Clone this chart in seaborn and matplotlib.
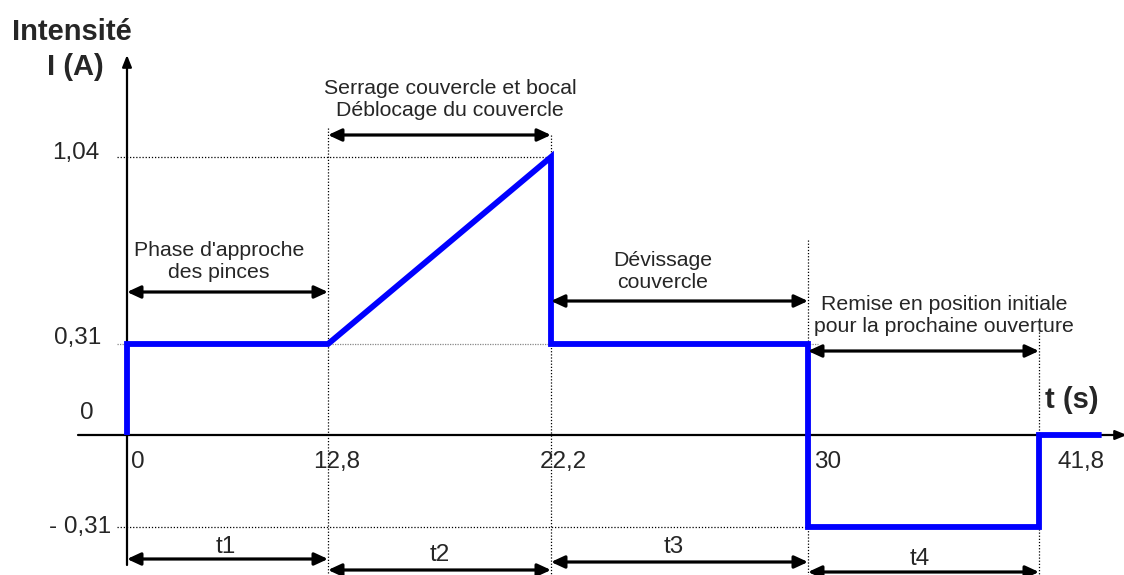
import numpy as np
import matplotlib
matplotlib.use('Agg')
import matplotlib.pyplot as plt
import seaborn as sns

# Data
phase_times = [0, 12.8, 22.2, 30, 41.8]          # s
time_labels = ['0', '12,8', '22,2', '30', '41,8']
current_levels = [1.04, 0.31, 0, -0.31]          # A
current_labels = ['1,04', '0,31', '0', '- 0,31']

# Current waveform I(t)
t_pts = [0, 0, 12.8, 22.2, 22.2, 30, 30, 41.8, 41.8, 45.0]
i_pts = [0, 0.31, 0.31, 1.04, 0.31, 0.31, -0.31, -0.31, 0, 0]

phase_texts = ["Phase d'approche\ndes pinces",
               "Serrage couvercle et bocal\nDéblocage du couvercle",
               "Dévissage\ncouvercle",
               "Remise en position initiale\npour la prochaine ouverture"]
duration_labels = ['t1', 't2', 't3', 't4']

# ---- layout (schematic, non linear time axis) ----
W, H = 1124, 575
U_KNOTS = [127, 328, 551, 808, 1039]      # pixel x of the phase times
I_KNOTS = [-0.31, 0, 0.31, 1.04]
Z_KNOTS = [-527, -435, -344, -157]        # minus pixel y of the levels


def piecewise(x, xs, ys):
    x = np.asarray(x, dtype=float)
    y = np.interp(x, xs, ys)
    lo = ys[0] + (x - xs[0]) * (ys[1] - ys[0]) / (xs[1] - xs[0])
    hi = ys[-1] + (x - xs[-1]) * (ys[-1] - ys[-2]) / (xs[-1] - xs[-2])
    return np.where(x < xs[0], lo, np.where(x > xs[-1], hi, y))


fx = lambda t: piecewise(t, phase_times, U_KNOTS)
ix = lambda u: piecewise(u, U_KNOTS, phase_times)
fy = lambda i: piecewise(i, I_KNOTS, Z_KNOTS)
iy = lambda z: piecewise(z, Z_KNOTS, I_KNOTS)
px = lambda u: float(ix(u))      # pixel x -> time
py = lambda v: float(iy(-v))     # pixel y -> current

sns.set_style('white')
plt.rcParams['font.family'] = ['Liberation Sans', 'DejaVu Sans']

fig = plt.figure(figsize=(W / 100, H / 100), dpi=100)
ax = fig.add_axes([0, 0, 1, 1])

sns.lineplot(x=t_pts, y=i_pts, sort=False, estimator=None, color='#0000ff',
             lw=4.2, ax=ax)
ax.lines[-1].set_solid_joinstyle('miter')
ax.lines[-1].set_solid_capstyle('butt')

ax.set_xscale('function', functions=(fx, ix))
ax.set_yscale('function', functions=(fy, iy))
ax.set_xlim(px(0), px(W))
ax.set_ylim(py(H), py(0))
ax.set_axis_off()

# dotted guides
dot = dict(color='black', lw=0.9, ls=(0, (1, 1.5)), zorder=1)
ax.plot([px(117), 22.2], [1.04, 1.04], **dot)
ax.plot([px(117), px(818)], [0.31, 0.31], color='#888888', lw=0.9,
        ls=(0, (1, 1)), zorder=1)
ax.plot([px(117), 30], [-0.31, -0.31], **dot)
for t, top in zip(phase_times[1:], [128, 135, 240, 332]):
    ax.plot([t, t], [py(top), py(H)], **dot)

# axes with arrows
axis_arrow = dict(arrowstyle='-|>,head_length=0.7,head_width=0.28', color='black',
                  lw=1.6, shrinkA=0, shrinkB=0)
ax.annotate('', xy=(px(W + 3), 0), xytext=(px(78), 0), arrowprops=axis_arrow,
            annotation_clip=False, zorder=1)
ax.annotate('', xy=(0, py(55)), xytext=(0, py(565)), arrowprops=axis_arrow,
            annotation_clip=False, zorder=1)

# double arrows for the phases
dbl = dict(arrowstyle='<|-|>,head_length=0.8,head_width=0.37', color='black',
           lw=2.3, shrinkA=0, shrinkB=0)
top_rows = [292, 135, 301, 351]
top_text = [(219, 262), (450, 99), (663, 271), (944, 316)]
bot_rows = [559, 570, 562, 572]
bot_text = [(226, 547), (440, 555), (674, 547), (920, 559)]
for k in range(4):
    t0, t1 = phase_times[k], phase_times[k + 1]
    ax.annotate('', xy=(t1, py(top_rows[k])), xytext=(t0, py(top_rows[k])),
                arrowprops=dbl)
    ax.text(px(top_text[k][0]), py(top_text[k][1]), phase_texts[k],
            ha='center', va='center', fontsize=15.3)
    ax.annotate('', xy=(t1, py(bot_rows[k])), xytext=(t0, py(bot_rows[k])),
                arrowprops=dbl)
    ax.text(px(bot_text[k][0]), py(bot_text[k][1]), duration_labels[k],
            ha='center', va='center', fontsize=17.5)

# time labels
x_off = [4, -15, -11, 6, 18]
for t, lab, dx in zip(phase_times, time_labels, x_off):
    ax.annotate(lab, xy=(t, 0), xytext=(dx, -27), textcoords='offset pixels',
                ha='left', va='center', fontsize=17.5)

# current labels
y_off = [(-28, 4), (-26, 6), (-33, 22), (-16, 0)]
for i, lab, (dx, dy) in zip(current_levels, current_labels, y_off):
    ax.annotate(lab, xy=(0, i), xytext=(dx, dy), textcoords='offset pixels',
                ha='right', va='center', fontsize=17.5)

# axis titles
ax.text(px(72), py(32), 'Intensité', ha='center', va='center',
        fontsize=21, fontweight='bold')
ax.text(px(75), py(67), 'I (A)', ha='center', va='center',
        fontsize=21, fontweight='bold')
ax.text(px(1072), py(400), 't (s)', ha='center', va='center',
        fontsize=21, fontweight='bold')

fig.savefig('out.png', dpi=100)
